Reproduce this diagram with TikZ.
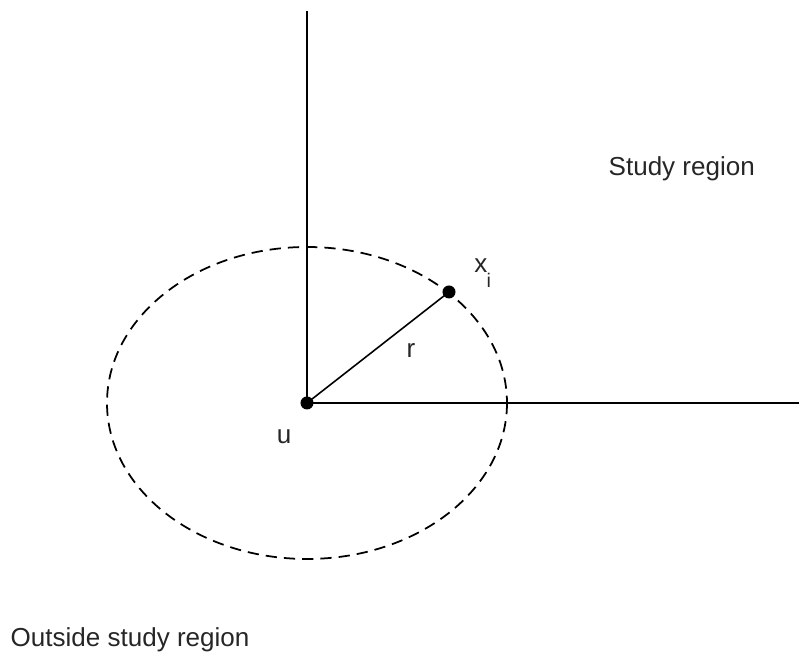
\documentclass[tikz,border=0pt]{standalone}
\usepackage{fontspec}
\setmainfont{Liberation Sans}
\usetikzlibrary{positioning}

\begin{document}
\begin{tikzpicture}[
    x=0.01cm, y=-0.01cm,
    axisln/.style  = {black, line width=0.5pt},
    radiusln/.style= {black, line width=0.45pt},
    rim/.style     = {black, line width=0.5pt, dash pattern=on 3.2pt off 2pt},
    pt/.style      = {circle, fill=black, draw=none, minimum size=0.13cm, inner sep=0pt},
    lbl/.style     = {font=\fontsize{7.4}{9}\selectfont, text=black!85, inner sep=0pt},
    sublbl/.style  = {font=\fontsize{5.6}{7}\selectfont, text=black!85, inner sep=0pt}
  ]
  \useasboundingbox (0,0) rectangle (799,659);

  % axes of the study region
  \coordinate (top)   at (307,11);
  \coordinate (right) at (799,403);
  \node[pt] (u)  at (307,403) {};
  \node[pt] (xi) at (449,292) {};
  \draw[axisln] (u.center) -- (top);
  \draw[axisln] (u.center) -- (right);

  % circle of radius r round u
  \draw[rim] (307,403) ellipse [x radius=200, y radius=156];
  \draw[radiusln] (u.center) -- (xi.center);

  \node[lbl] (ulab) at (284,437) {u};
  \node[lbl] (xlab) at (481,266) {x};
  \node[sublbl, anchor=north west] (ilab) at (486,273) {i};
  \node[lbl] (rlab) at (411,351) {r};

  \node[lbl, anchor=west] (study) at (608,169) {Study region};
  \node[lbl, anchor=west] (outside) at (10,640) {Outside study region};
\end{tikzpicture}
\end{document}
